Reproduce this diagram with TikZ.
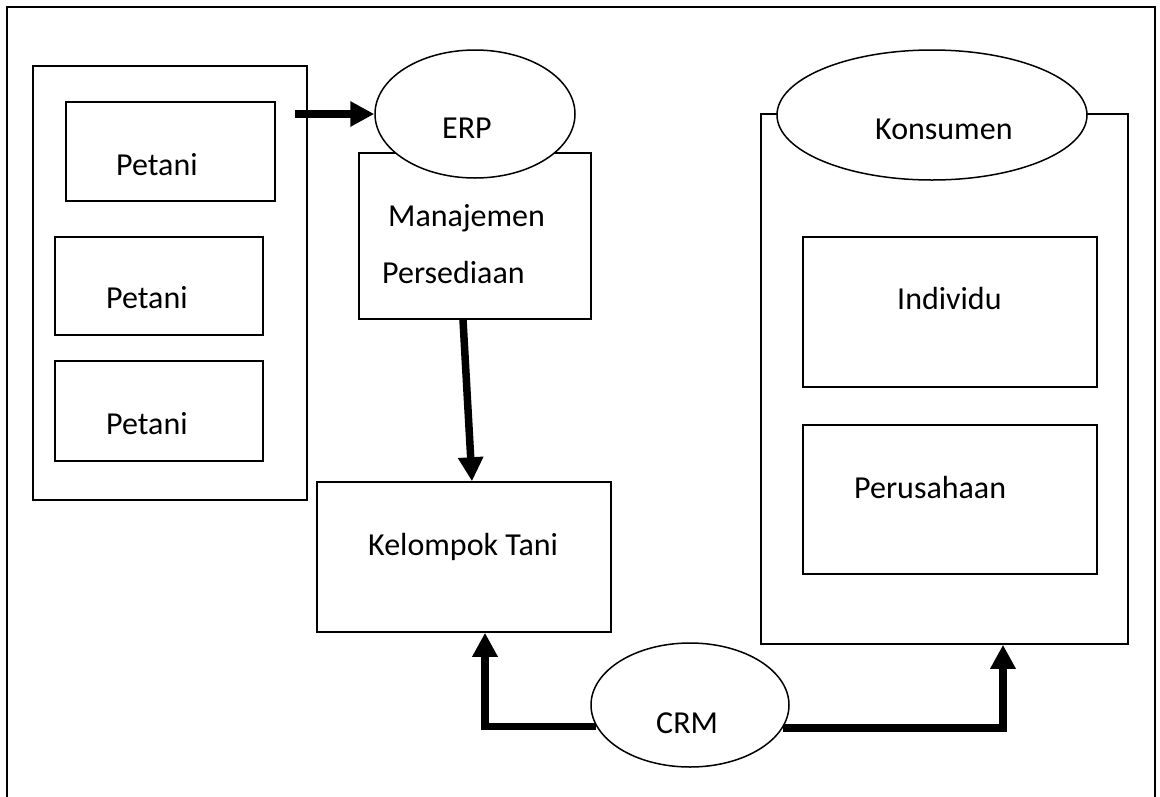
\documentclass[tikz,border=0pt]{standalone}
\usepackage{fontspec}
\setmainfont{Carlito}
\usetikzlibrary{arrows.meta,calc,shapes.geometric}
\begin{document}
\begin{tikzpicture}[x=1pt,y=-1pt,
  box/.style={draw,line width=1.5pt,rectangle,inner sep=0pt,fill=white},
  oval/.style={draw,line width=1.5pt,ellipse,inner sep=0pt,fill=white},
  lbl/.style={inner sep=0pt,anchor=base west,font=\fontsize{32}{38}\selectfont},
  arr/.style={line width=7.5pt,line join=miter,-{Triangle[length=24pt,width=24pt]}}]
\useasboundingbox (0,0) rectangle (1160,796);
% outer frame
\draw[line width=2pt] (7,800) -- (7,7) -- (1155,7) -- (1155,800);
% left container
\node[box,minimum width=274pt,minimum height=434pt] (lc) at (170,283) {};
\node[box,minimum width=209pt,minimum height=99pt] (p1) at (170.5,151.5) {};
\node[box,minimum width=208pt,minimum height=98pt] (p2) at (159,286) {};
\node[box,minimum width=208pt,minimum height=100pt] (p3) at (159,411) {};
\node[lbl] (t1) at (116,175) {Petani};
\node[lbl] (t2) at (106,308) {Petani};
\node[lbl] (t3) at (106,434) {Petani};
% ERP
\node[box,minimum width=232pt,minimum height=166pt] (mp) at (475,236) {};
\node[oval,minimum width=200pt,minimum height=128pt] (erp) at (475,114) {};
\node[lbl] (terp) at (442,138) {ERP};
\node[lbl] (tm1) at (388,226) {Manajemen};
\node[lbl] (tm2) at (382,283) {Persediaan};
% Kelompok Tani
\node[box,minimum width=294pt,minimum height=150pt] (kt) at (464,557) {};
\node[lbl] (tkt) at (368,555) {Kelompok Tani};
% Konsumen
\node[box,minimum width=367pt,minimum height=530pt] (kc) at (944.5,379) {};
\node[oval,minimum width=310pt,minimum height=130pt] (kons) at (932,115) {};
\node[lbl] (tkons) at (875,139) {Konsumen};
\node[box,minimum width=294pt,minimum height=150pt] (ind) at (950,312) {};
\node[lbl] (tind) at (897,309) {Individu};
\node[box,minimum width=294pt,minimum height=149pt] (per) at (950,499.5) {};
\node[lbl] (tper) at (854,498) {Perusahaan};
% CRM
\node[oval,minimum width=198pt,minimum height=124pt] (crm) at (690,705) {};
\node[lbl] (tcrm) at (656,733) {CRM};
% connectors
\coordinate (a1s) at (295,114);
\draw[arr] (a1s) -- (erp.west);
\draw[arr] ($(mp.south)+(-12,0)$) -- ($(kt.north)+(8,0)$);
\draw[arr] (crm.193.4) -| ($(kt.south)+(21,0)$);
\draw[arr] (crm.346.6) -| ($(kc.south)+(58.5,0)$);
\end{tikzpicture}
\end{document}
